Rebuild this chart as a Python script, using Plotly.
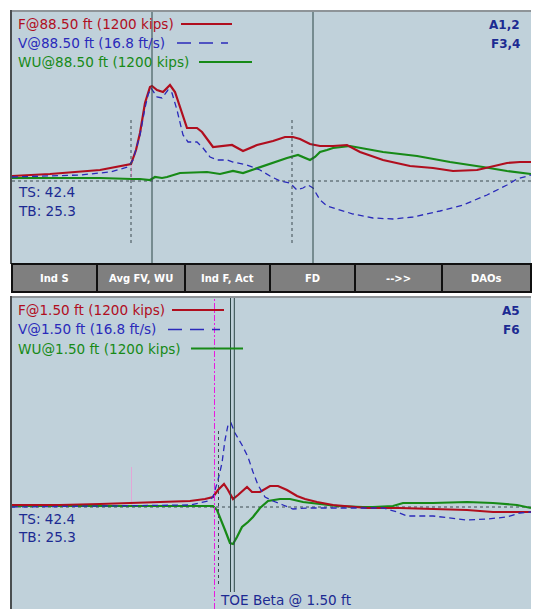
import plotly.graph_objects as go

W, H = 533, 609

# ---------------- data (time in ms, force in kips, velocity in ft/s) ----------------
up_t_F = [0, 3.8, 8.8, 11.9, 12.4, 12.8, 13.3, 13.8, 14.0, 14.5, 15.1, 15.8, 16.3, 16.8, 17.5, 18.5, 19.0,
          20.1, 21.5, 22.0, 23.1, 24.5, 26.1, 27.3, 28.1, 28.8, 29.8, 30.8, 32.1, 33.5, 34.8, 37.1, 39.8,
          42.1, 44.1, 46.5, 47.8, 49.5, 50.8, 51.9]
up_F = [50, 70, 110, 170, 310, 480, 780, 940, 950, 910, 890, 960, 890, 740, 530, 530, 490,
        340, 350, 360, 300, 360, 400, 440, 440, 420, 370, 350, 350, 360, 290, 210, 150,
        130, 100, 110, 140, 180, 190, 190]

up_t_WU = [0, 8.8, 12.0, 12.8, 13.8, 14.3, 15.0, 15.5, 16.8, 19.5, 20.8, 22.1, 23.1, 24.5, 26.1, 27.5, 28.6,
           29.8, 30.3, 30.8, 31.5, 32.1, 33.8, 37.1, 40.5, 43.8, 47.1, 49.5, 51.9]
up_WU = [30, 30, 20, 20, 10, 40, 30, 40, 80, 90, 70, 100, 80, 130, 180, 230, 260,
         210, 240, 290, 310, 330, 350, 290, 250, 190, 140, 100, 70]

up_t_V = [0, 6.8, 9.8, 11.6, 12.1, 12.8, 13.3, 13.6, 13.9, 14.2, 14.5, 15.0, 15.6, 16.0, 16.5, 17.1, 17.6,
          18.5, 19.1, 19.8, 20.5, 21.5, 22.1, 23.5, 24.8, 25.8, 26.8, 27.8, 28.5, 29.1, 29.6, 30.1, 30.8,
          31.5, 32.8, 34.1, 36.1, 38.1, 40.1, 42.8, 45.1, 47.5, 49.5, 50.5, 51.9]
up_V = [0.56, 0.84, 1.26, 1.96, 2.94, 6.44, 10.22, 12.04, 13.02, 12.46, 11.76, 11.62, 12.74, 12.32, 9.94, 6.44, 5.46,
        5.46, 4.62, 3.36, 2.94, 2.94, 2.66, 2.24, 1.54, 0.70, 0.0, -0.28, -1.26, -0.98, -0.56, -0.98, -2.66,
        -3.50, -4.06, -4.62, -5.18, -5.32, -5.04, -4.20, -3.36, -1.96, -0.56, 0.28, 0.84]

lo_t_F = [0, 4.8, 8.8, 12.8, 17.8, 19.3, 20.1, 20.6, 21.2, 21.6, 22.1, 22.6, 23.5, 24.0, 24.8, 25.8, 26.6,
          27.5, 28.5, 29.3, 30.5, 32.1, 35.5, 38.8, 42.8, 45.5, 48.1, 50.1, 51.9]
lo_F = [20, 20, 30, 40, 60, 80, 100, 170, 230, 170, 80, 120, 200, 150, 150, 210, 210,
        170, 110, 80, 50, 20, -10, -10, -20, -30, -50, -50, -50]

lo_t_WU = [0, 8.8, 20.1, 20.5, 20.8, 21.3, 21.8, 22.1, 22.5, 23.0, 23.6, 24.1, 24.8, 25.6, 26.8, 27.8,
           29.1, 30.8, 32.5, 35.1, 36.1, 38.1, 39.1, 42.1, 45.5, 48.1, 50.5, 51.9]
lo_WU = [10, 10, 10, -30, -100, -230, -360, -370, -300, -200, -150, -100, -10, 60, 80, 80,
         50, 30, 10, 0, 0, 10, 40, 40, 50, 40, 20, -10]

lo_t_V = [0, 8.8, 17.8, 19.6, 20.1, 20.6, 21.0, 21.3, 21.6, 21.9, 22.3, 23.0, 23.6, 24.1, 24.6, 25.3,
          26.1, 27.1, 28.1, 29.5, 32.1, 37.1, 38.5, 39.5, 42.1, 43.8, 45.5, 47.5, 49.5, 50.8, 51.9]
lo_V = [0.0, 0.14, 0.28, 0.84, 1.40, 3.78, 6.16, 9.38, 11.48, 11.76, 10.36, 8.68, 7.0, 4.90, 3.08, 1.40,
        0.84, 0.28, -0.28, -0.14, -0.14, -0.14, -0.70, -1.26, -1.26, -1.54, -1.82, -1.68, -1.40, -0.84, -0.70]

F_SCALE, V_SCALE = 1200.0, 16.8      # kips  <->  ft/s
up_solid_marks = [14.0, 30.1]
up_dotted_marks = [11.9, 28.0]
lo_solid_marks = [21.85, 22.23]
lo_dotted_marks = [20.65]
lo_toe_mark = 20.25
impact_mark = 11.95

up_labels = ["F@88.50 ft (1200 kips)", "V@88.50 ft (16.8 ft/s)", "WU@88.50 ft (1200 kips)"]
lo_labels = ["F@1.50 ft (1200 kips)", "V@1.50 ft (16.8 ft/s)", "WU@1.50 ft (1200 kips)"]
up_tags = ["A1,2", "F3,4"]
lo_tags = ["A5", "F6"]
stats = ["TS: 42.4", "TB: 25.3"]
buttons = ["Ind S", "Avg FV, WU", "Ind F, Act", "FD", "-->>", "DAOs"]
toe_text = "TOE Beta @ 1.50 ft"

# ---------------- styling ----------------
BG = "#C0D1DA"
C_F, C_V, C_WU = "#B00E1E", "#2A2ABA", "#178A17"
NAVY = "#1C2A92"
FONT = "DejaVu Sans"
FS = 13.6
T_RANGE = [0, 51.9]


def px(x):
    return x / W


def py(y):
    return 1 - y / H


up_dom = [py(264), py(12)]
lo_dom = [py(609), py(298)]
x_dom = [px(12), px(531)]


def v2k(vals):
    return [v * F_SCALE / V_SCALE for v in vals]


fig = go.Figure()
for (tt, vv, col, dash, wd, ax) in [
    (up_t_WU, up_WU, C_WU, "solid", 2.2, "y"),
    (up_t_F, up_F, C_F, "solid", 2.2, "y"),
    (up_t_V, v2k(up_V), C_V, "6px,4px", 1.3, "y"),
    (lo_t_WU, lo_WU, C_WU, "solid", 2.2, "y2"),
    (lo_t_F, lo_F, C_F, "solid", 2.2, "y2"),
    (lo_t_V, v2k(lo_V), C_V, "6px,4px", 1.3, "y2"),
]:
    fig.add_trace(go.Scatter(x=tt, y=vv, mode="lines", line=dict(color=col, width=wd, dash=dash),
                             xaxis="x" if ax == "y" else "x2", yaxis=ax, showlegend=False,
                             hoverinfo="skip"))

shapes = []
ann = []

# zero lines
for xr, yr in [("x", "y"), ("x2", "y2")]:
    shapes.append(dict(type="line", xref=xr, yref=yr, x0=T_RANGE[0], x1=T_RANGE[1], y0=0, y1=0,
                       line=dict(color="#3C4A50", width=1, dash="3px,3px"), layer="below"))

# faint impact markers
shapes.append(dict(type="line", xref="x", yref="y", x0=impact_mark, x1=impact_mark, y0=0, y1=180,
                   line=dict(color="#E2A6D6", width=1), layer="below"))
shapes.append(dict(type="line", xref="x2", yref="y2", x0=impact_mark, x1=impact_mark, y0=0, y1=400,
                   line=dict(color="#E2A6D6", width=1), layer="below"))

# upper markers
for t in up_solid_marks:
    shapes.append(dict(type="line", xref="x", yref="paper", x0=t, x1=t, y0=up_dom[0], y1=up_dom[1],
                       line=dict(color="#2C4646", width=1)))
for t in up_dotted_marks:
    shapes.append(dict(type="line", xref="x", yref="paper", x0=t, x1=t, y0=py(243), y1=py(118),
                       line=dict(color="#3C4A50", width=1, dash="3px,3px")))
# lower markers
shapes.append(dict(type="line", xref="x2", yref="paper", x0=lo_toe_mark, x1=lo_toe_mark, y0=0, y1=lo_dom[1],
                   line=dict(color="#E81AE0", width=1, dash="6px,2px,2px,2px")))
for t in lo_dotted_marks:
    shapes.append(dict(type="line", xref="x2", yref="paper", x0=t, x1=t, y0=py(584), y1=py(428),
                       line=dict(color="#3C4A50", width=1, dash="3px,3px")))
for t in lo_solid_marks:
    shapes.append(dict(type="line", xref="x2", yref="paper", x0=t, x1=t, y0=py(592), y1=lo_dom[1],
                       line=dict(color="#2C4646", width=1)))

# panel borders
for top, bot in [(12, 264), (298, 609)]:
    shapes.append(dict(type="line", xref="paper", yref="paper", x0=px(11), x1=px(531), y0=py(top - 1), y1=py(top - 1),
                       line=dict(color="#8E9498", width=2)))
    shapes.append(dict(type="line", xref="paper", yref="paper", x0=px(11), x1=px(11), y0=py(bot), y1=py(top - 2),
                       line=dict(color="#4A4E50", width=2)))

# button bar
edges = [12, 97, 185, 270, 355, 442, 531]
for i, lab in enumerate(buttons):
    x0, x1 = edges[i], edges[i + 1]
    shapes.append(dict(type="rect", xref="paper", yref="paper", x0=px(x0), x1=px(x1), y0=py(292), y1=py(264),
                       fillcolor="#7F7F7F", line=dict(color="#101010", width=2)))
    ann.append(dict(text="<b>%s</b>" % lab, x=px((x0 + x1) / 2), y=py(278), xref="paper", yref="paper",
                    showarrow=False, font=dict(family=FONT, size=10, color="white"),
                    xanchor="center", yanchor="middle"))

# legend texts + sample lines
cols = [C_F, C_V, C_WU]
up_rows = [24, 43, 62]
up_lines = [(181, 232), (177, 228), (199, 252)]
lo_rows = [310, 329.5, 348.5]
lo_lines = [(172, 224), (168, 220), (191, 243)]
for labels, rows, lines in [(up_labels, up_rows, up_lines), (lo_labels, lo_rows, lo_lines)]:
    for lab, yy, (a, b), c, k in zip(labels, rows, lines, cols, range(3)):
        ann.append(dict(text=lab, x=px(16), y=py(yy), xref="paper", yref="paper", showarrow=False,
                        font=dict(family=FONT, size=FS, color=c), xanchor="left", yanchor="middle"))
        shapes.append(dict(type="line", xref="paper", yref="paper", x0=px(a), x1=px(b), y0=py(yy), y1=py(yy),
                           line=dict(color=c, width=2 if k != 1 else 1.3,
                                     dash="solid" if k != 1 else "14px,8px")))

# right tags
for tags, rows in [(up_tags, [25, 44]), (lo_tags, [311, 330])]:
    for tg, yy in zip(tags, rows):
        ann.append(dict(text="<b>%s</b>" % tg, x=px(522), y=py(yy), xref="paper", yref="paper", showarrow=False,
                        font=dict(family=FONT, size=12, color=NAVY), xanchor="right", yanchor="middle"))

# TS / TB
for rows in [(192, 211), (519, 537)]:
    for s, yy in zip(stats, rows):
        ann.append(dict(text=s, x=px(16), y=py(yy), xref="paper", yref="paper", showarrow=False,
                        font=dict(family=FONT, size=FS, color=NAVY), xanchor="left", yanchor="middle"))

ann.append(dict(text=toe_text, x=px(218), y=py(600), xref="paper", yref="paper", showarrow=False,
                font=dict(family=FONT, size=FS, color=NAVY), xanchor="left", yanchor="middle"))

ax_common = dict(showgrid=False, zeroline=False, showticklabels=False, ticks="", showline=False, fixedrange=True)
fig.update_layout(
    width=W, height=H, margin=dict(l=0, r=0, t=0, b=0),
    paper_bgcolor="white", plot_bgcolor=BG,
    xaxis=dict(domain=x_dom, range=T_RANGE, anchor="y", **ax_common),
    xaxis2=dict(domain=x_dom, range=T_RANGE, anchor="y2", **ax_common),
    yaxis=dict(domain=up_dom, range=[-830, 1690], anchor="x", **ax_common),
    yaxis2=dict(domain=lo_dom, range=[-1020, 2090], anchor="x2", **ax_common),
    shapes=shapes, annotations=ann, showlegend=False,
)

fig.write_html("out.html", config={"displayModeBar": False},
               post_script="document.body.style.margin='0';document.body.style.overflow='hidden';")
